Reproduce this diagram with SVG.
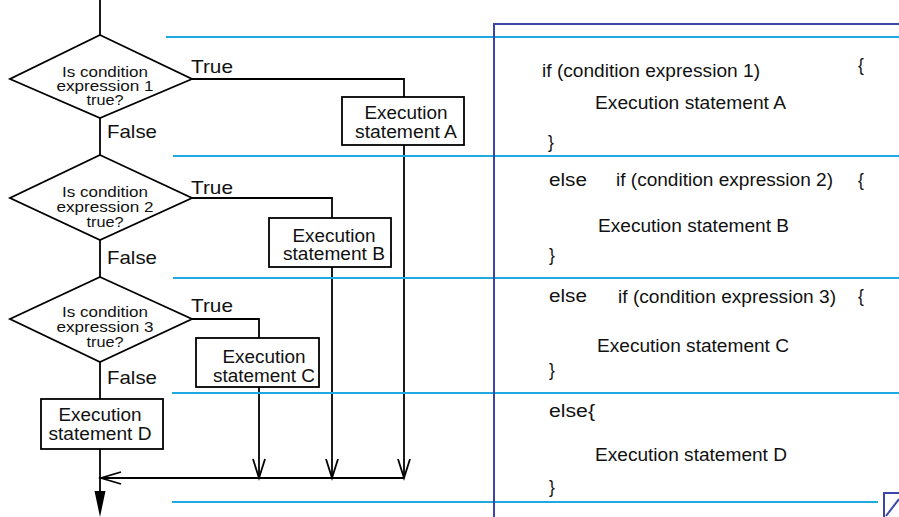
<svg xmlns="http://www.w3.org/2000/svg" width="899" height="517" viewBox="0 0 899 517">
  <style>
    .shape { fill: #fff; stroke: #000; stroke-width: 1.8; }
    .wire { fill: none; stroke: #000; stroke-width: 1.8; }
    .rule { fill: none; stroke: #1ea9e1; stroke-width: 2; }
    .frame { fill: none; stroke: #3a47a8; stroke-width: 2; }
    text { font-family: "Liberation Sans", Arial, sans-serif; fill: #111; }
    .q { font-size: 15.5px; text-anchor: middle; }
    .lbl { font-size: 18.5px; }
    .box { font-size: 17.5px; text-anchor: middle; }
    .code { font-size: 17.5px; }
  </style>
  <defs>
    <marker id="openDown" viewBox="0 0 14 20" refX="7" refY="19" markerWidth="14" markerHeight="20" markerUnits="userSpaceOnUse" orient="auto-start-reverse">
      <path d="M1,0 L7,19 L13,0" fill="none" stroke="#000" stroke-width="1.8"/>
    </marker>
  </defs>

  <!-- connectors -->
  <g id="connectors">
    <!-- main spine -->
    <line class="wire" x1="100" y1="0" x2="100" y2="35"/>
    <line class="wire" x1="100" y1="118" x2="100" y2="155"/>
    <line class="wire" x1="100" y1="240" x2="100" y2="277"/>
    <line class="wire" x1="100" y1="362" x2="100" y2="399"/>
    <line class="wire" x1="100" y1="449" x2="100" y2="495"/>
    <polygon points="94.5,491 105.5,491 100,517" fill="#000"/>
    <!-- true branches -->
    <polyline class="wire" points="192,79 404,79 404,97"/>
    <polyline class="wire" points="192,198 332,198 332,218"/>
    <polyline class="wire" points="192,319 259,319 259,338"/>
    <!-- drops to the merge line -->
    <line class="wire" x1="404" y1="145" x2="404" y2="478"/>
    <line class="wire" x1="332" y1="267" x2="332" y2="478"/>
    <line class="wire" x1="259" y1="387" x2="259" y2="478"/>
    <path class="wire" d="M398,459 L404,478 L410,459 M326,459 L332,478 L338,459 M253,459 L259,478 L265,459"/>
    <!-- merge line with open arrow into the spine -->
    <line class="wire" x1="100" y1="478" x2="404" y2="478"/>
    <path class="wire" d="M121,472 L101,478 L121,484"/>
  </g>

  <!-- decision 1 -->
  <g id="decision1">
    <polygon class="shape" points="100,35 192,79 100,118 10,79"/>
    <text class="q" x="105" y="77" textLength="86" lengthAdjust="spacingAndGlyphs">Is condition</text>
    <text class="q" x="105" y="91" textLength="97" lengthAdjust="spacingAndGlyphs">expression 1</text>
    <text class="q" x="105" y="105" textLength="37" lengthAdjust="spacingAndGlyphs">true?</text>
    <text class="lbl" x="191" y="73" textLength="42" lengthAdjust="spacingAndGlyphs">True</text>
    <text class="lbl" x="107" y="138" textLength="50" lengthAdjust="spacingAndGlyphs">False</text>
  </g>

  <!-- decision 2 -->
  <g id="decision2">
    <polygon class="shape" points="100,155 192,198 100,240 10,198"/>
    <text class="q" x="105" y="197" textLength="86" lengthAdjust="spacingAndGlyphs">Is condition</text>
    <text class="q" x="105" y="212" textLength="97" lengthAdjust="spacingAndGlyphs">expression 2</text>
    <text class="q" x="105" y="227" textLength="37" lengthAdjust="spacingAndGlyphs">true?</text>
    <text class="lbl" x="191" y="194" textLength="42" lengthAdjust="spacingAndGlyphs">True</text>
    <text class="lbl" x="107" y="264" textLength="50" lengthAdjust="spacingAndGlyphs">False</text>
  </g>

  <!-- decision 3 -->
  <g id="decision3">
    <polygon class="shape" points="100,277 192,319 100,362 10,319"/>
    <text class="q" x="105" y="317" textLength="86" lengthAdjust="spacingAndGlyphs">Is condition</text>
    <text class="q" x="105" y="332" textLength="97" lengthAdjust="spacingAndGlyphs">expression 3</text>
    <text class="q" x="105" y="347" textLength="37" lengthAdjust="spacingAndGlyphs">true?</text>
    <text class="lbl" x="191" y="312" textLength="42" lengthAdjust="spacingAndGlyphs">True</text>
    <text class="lbl" x="107" y="384" textLength="50" lengthAdjust="spacingAndGlyphs">False</text>
  </g>

  <!-- statement boxes -->
  <g id="stmtA">
    <rect class="shape" x="342" y="97" width="122" height="48"/>
    <text class="box" x="406" y="119" textLength="83" lengthAdjust="spacingAndGlyphs">Execution</text>
    <text class="box" x="406" y="138" textLength="102" lengthAdjust="spacingAndGlyphs">statement A</text>
  </g>
  <g id="stmtB">
    <rect class="shape" x="269" y="218" width="122" height="49"/>
    <text class="box" x="334" y="242" textLength="83" lengthAdjust="spacingAndGlyphs">Execution</text>
    <text class="box" x="334" y="260" textLength="102" lengthAdjust="spacingAndGlyphs">statement B</text>
  </g>
  <g id="stmtC">
    <rect class="shape" x="196" y="338" width="123" height="49"/>
    <text class="box" x="264" y="363" textLength="83" lengthAdjust="spacingAndGlyphs">Execution</text>
    <text class="box" x="264" y="382" textLength="102" lengthAdjust="spacingAndGlyphs">statement C</text>
  </g>
  <g id="stmtD">
    <rect class="shape" x="41" y="399" width="122" height="50"/>
    <text class="box" x="100" y="421" textLength="83" lengthAdjust="spacingAndGlyphs">Execution</text>
    <text class="box" x="100" y="440" textLength="103" lengthAdjust="spacingAndGlyphs">statement D</text>
  </g>

  <!-- code listing rules -->
  <g id="rules">
    <line class="rule" x1="166" y1="37" x2="899" y2="37"/>
    <line class="rule" x1="173" y1="156" x2="899" y2="156"/>
    <line class="rule" x1="173" y1="278" x2="899" y2="278"/>
    <line class="rule" x1="172" y1="393" x2="899" y2="393"/>
    <line class="rule" x1="172" y1="502" x2="878" y2="502"/>
  </g>

  <!-- code panel frame -->
  <g id="frame">
    <polyline class="frame" points="494,517 494,24 899,24"/>
    <path class="frame" d="M884,517 V493 H899 M886,516 L899,499"/>
  </g>

  <!-- code listing -->
  <g id="code">
    <text class="code" x="542" y="77" textLength="218" lengthAdjust="spacingAndGlyphs">if (condition expression 1)</text>
    <text class="code" x="858" y="71">{</text>
    <text class="code" x="595" y="109" textLength="191" lengthAdjust="spacingAndGlyphs">Execution statement A</text>
    <text class="code" x="548" y="148">}</text>

    <text class="code" x="549" y="186" textLength="38" lengthAdjust="spacingAndGlyphs">else</text>
    <text class="code" x="616" y="186" textLength="217" lengthAdjust="spacingAndGlyphs">if (condition expression 2)</text>
    <text class="code" x="858" y="186">{</text>
    <text class="code" x="598" y="232" textLength="191" lengthAdjust="spacingAndGlyphs">Execution statement B</text>
    <text class="code" x="549" y="261">}</text>

    <text class="code" x="549" y="302" textLength="38" lengthAdjust="spacingAndGlyphs">else</text>
    <text class="code" x="618" y="303" textLength="218" lengthAdjust="spacingAndGlyphs">if (condition expression 3)</text>
    <text class="code" x="858" y="302">{</text>
    <text class="code" x="597" y="352" textLength="192" lengthAdjust="spacingAndGlyphs">Execution statement C</text>
    <text class="code" x="549" y="376">}</text>

    <text class="code" x="549" y="417" textLength="46" lengthAdjust="spacingAndGlyphs">else{</text>
    <text class="code" x="595" y="461" textLength="192" lengthAdjust="spacingAndGlyphs">Execution statement D</text>
    <text class="code" x="549" y="493">}</text>
  </g>
</svg>
